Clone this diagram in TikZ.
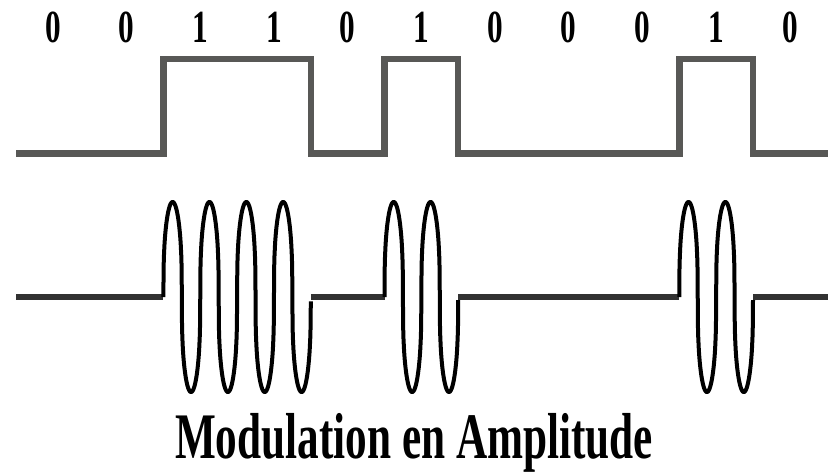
\documentclass[tikz,border=0pt]{standalone}
\usepackage{fontspec}
\setmainfont{Liberation Serif}
\definecolor{diggray}{RGB}{88,88,86}
\definecolor{basegray}{RGB}{50,50,50}
\tikzset{
  digline/.style={draw=diggray, line width=6.5pt, line join=miter, line cap=butt},
  baseline/.style={draw=basegray, line width=6pt, line cap=butt},
  wave/.style={draw=black, line width=4pt, line join=round},
  bitlabel/.style={anchor=base, inner sep=0pt, font=\fontsize{46}{46}\selectfont\bfseries, xscale=0.68},
  titlelabel/.style={anchor=base, inner sep=0pt, font=\fontsize{65}{65}\selectfont\bfseries, xscale=0.665}
}
\begin{document}
\begin{tikzpicture}[x=1pt, y=-1pt]
\useasboundingbox (0,0) rectangle (832,473);
\fill[white] (0,0) rectangle (832,473);
% bit labels
\foreach \b [count=\i from 0] in {0,0,1,1,0,1,0,0,0,1,0} {
  \node[bitlabel] (bit\i) at ({16+73.7*(\i+0.5)},43) {\b};
}
% digital signal
\draw[digline] (16,153.5) -- (163.4,153.5) -- (163.4,59) -- (310.8,59) -- (310.8,153.5)
  -- (384.5,153.5) -- (384.5,59) -- (458.2,59) -- (458.2,153.5)
  -- (679.3,153.5) -- (679.3,59) -- (753,59) -- (753,153.5) -- (828,153.5);
% modulated signal baseline
\draw[baseline] (16,297) -- (163.4,297);
\draw[baseline] (310.8,297) -- (384.5,297);
\draw[baseline] (458.2,297) -- (679.3,297);
\draw[baseline] (753,297) -- (828,297);
% bursts
\draw[wave] plot[domain=0:1440, samples=801] ({163.4+\x/360*36.85},{297-95*sin(\x)*pow(abs(sin(\x))+0.00001,-0.65)});
\draw[wave] plot[domain=0:720, samples=401] ({384.5+\x/360*36.85},{297-95*sin(\x)*pow(abs(sin(\x))+0.00001,-0.65)});
\draw[wave] plot[domain=0:720, samples=401] ({679.3+\x/360*36.85},{297-95*sin(\x)*pow(abs(sin(\x))+0.00001,-0.65)});
% title
\node[titlelabel] (title) at (414,458) {Modulation en Amplitude};
\end{tikzpicture}
\end{document}
